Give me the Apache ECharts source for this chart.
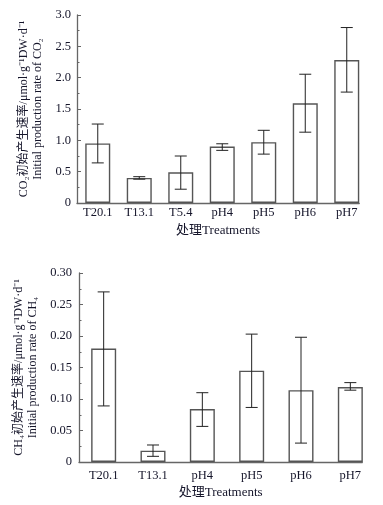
<!DOCTYPE html>
<html><head><meta charset="utf-8">
<script src="https://cdn.jsdelivr.net/npm/echarts@6/dist/echarts.min.js"></script>
<style>html,body{margin:0;padding:0;background:#fff}#c{width:383px;height:505px}</style>
</head><body><div id="c"></div>
<script>
// ---- Data ----
const co2Categories = ['T20.1', 'T13.1', 'T5.4', 'pH4', 'pH5', 'pH6', 'pH7'];
const co2Values = [0.95, 0.40, 0.49, 0.90, 0.97, 1.59, 2.28];
const co2Low = [0.64, 0.38, 0.22, 0.84, 0.78, 1.13, 1.77];
const co2High = [1.26, 0.42, 0.75, 0.945, 1.16, 2.055, 2.80];
const co2TickLabels = ['0', '0.5', '1.0', '1.5', '2.0', '2.5', '3.0'];

const ch4Categories = ['T20.1', 'T13.1', 'pH4', 'pH5', 'pH6', 'pH7'];
const ch4Values = [0.180, 0.018, 0.084, 0.145, 0.114, 0.119];
const ch4Low = [0.089, 0.009, 0.0565, 0.0866, 0.030, 0.114];
const ch4High = [0.270, 0.027, 0.110, 0.203, 0.198, 0.126];
const ch4TickLabels = ['0', '0.05', '0.10', '0.15', '0.20', '0.25', '0.30'];

const xName = '处理Treatments';
const co2YName = 'CO₂初始产生速率/μmol·g⁻¹DW·d⁻¹\nInitial production rate of CO₂';
const ch4YName = 'CH₄初始产生速率/μmol·g⁻¹DW·d⁻¹\nInitial production rate of CH₄';

// ---- Styles ----
const FONT = '"Liberation Serif", "Times New Roman", "Noto Sans CJK SC", serif';
const TXT = '#15152a';
const AX = '#666';

function errData(low, high) { return low.map((l, i) => [i, l, high[i]]); }
function errRender(params, api) {
  const x = api.value(0);
  const lo = api.coord([x, api.value(1)]);
  const hi = api.coord([x, api.value(2)]);
  const hw = 6;
  const st = { stroke: '#222', lineWidth: 1 };
  return { type: 'group', children: [
    { type: 'line', shape: { x1: lo[0], y1: lo[1], x2: hi[0], y2: hi[1] }, style: st },
    { type: 'line', shape: { x1: hi[0] - hw, y1: hi[1], x2: hi[0] + hw, y2: hi[1] }, style: st },
    { type: 'line', shape: { x1: lo[0] - hw, y1: lo[1], x2: lo[0] + hw, y2: lo[1] }, style: st }
  ]};
}

function yAx(gridIndex, max, interval, labels, name, labelMargin) {
  return {
    type: 'value', gridIndex, min: 0, max, interval,
    axisLine: { show: true, lineStyle: { color: AX, width: 1.3 } },
    axisTick: { show: true, inside: true, length: 4, lineStyle: { color: AX } },
    minorTick: { show: true, splitNumber: 2, length: 2.5, lineStyle: { color: AX } },
    splitLine: { show: false },
    axisLabel: { margin: labelMargin, color: TXT, fontFamily: FONT, fontSize: 12.5,
      formatter: v => labels[Math.round(v / interval)] },
    name, nameLocation: 'middle', nameRotate: 90, nameGap: 30,
    nameTextStyle: { color: TXT, fontFamily: FONT, fontSize: 12, lineHeight: 13.5 }
  };
}
function xCat(gridIndex, cats, margin) {
  return {
    type: 'category', gridIndex, data: cats,
    axisLine: { show: false }, axisTick: { show: false },
    axisLabel: { margin, color: TXT, fontFamily: FONT, fontSize: 12.5 }
  };
}
function xDeco(gridIndex, gap) {
  return {
    type: 'value', gridIndex, min: 0, max: 1,
    axisLine: { show: true, onZero: false, lineStyle: { color: AX, width: 1.3 } },
    axisTick: { show: false }, axisLabel: { show: false }, splitLine: { show: false },
    name: xName, nameLocation: 'middle', nameGap: gap,
    nameTextStyle: { color: TXT, fontFamily: FONT, fontSize: 13 }
  };
}
function yHidden(gridIndex) {
  return { type: 'value', gridIndex, show: false, min: 0, max: 1 };
}

const barStyle = { color: '#fff', borderColor: '#555', borderWidth: 1.4 };

const option = {
  animation: false,
  grid: [
    { left: 77, top: 15, width: 290.5, height: 188 },
    { left: 77, top: 15, width: 282.25, height: 188 },
    { left: 79, top: 273, width: 296, height: 189 },
    { left: 79, top: 273, width: 283.3, height: 189 }
  ],
  xAxis: [
    xCat(0, co2Categories, 3),
    xDeco(1, 21),
    xCat(2, ch4Categories, 7),
    xDeco(3, 24)
  ],
  yAxis: [
    yAx(0, 3.0, 0.5, co2TickLabels, co2YName, 6),
    yHidden(1),
    yAx(2, 0.30, 0.05, ch4TickLabels, ch4YName, 7),
    yHidden(3)
  ],
  series: [
    { type: 'bar', xAxisIndex: 0, yAxisIndex: 0, data: co2Values, barWidth: 25, itemStyle: barStyle, z: 3 },
    { type: 'custom', xAxisIndex: 0, yAxisIndex: 0, data: errData(co2Low, co2High), renderItem: errRender, encode: { x: 0, y: [1, 2] }, z: 4 },
    { type: 'bar', xAxisIndex: 2, yAxisIndex: 2, data: ch4Values, barWidth: 25, itemStyle: barStyle, z: 3 },
    { type: 'custom', xAxisIndex: 2, yAxisIndex: 2, data: errData(ch4Low, ch4High), renderItem: errRender, encode: { x: 0, y: [1, 2] }, z: 4 }
  ]
};
const chart = echarts.init(document.getElementById('c'), null, { renderer: 'canvas' });
chart.setOption(option);
</script>
</body></html>
